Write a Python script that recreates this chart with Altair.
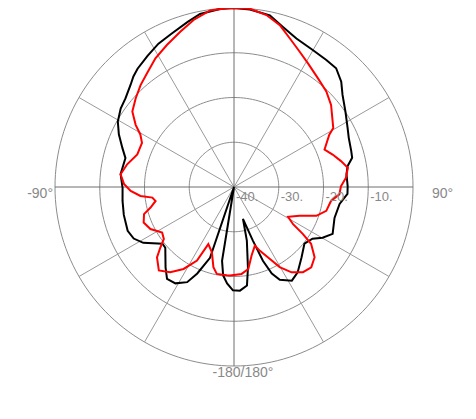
import altair as alt
import pandas as pd
import numpy as np

# ---- data (angle clockwise from top, level in dB) ----
black_angle = [0, 5.1, 11.8, 17.0, 22.8, 29.9, 36.0, 40.7, 45.5, 49.7,
               55.8, 62.6, 66.8, 73.0, 76.1, 79.6, 83.6, 89.6, 93.5, 99.1,
               107.1, 115.4, 119.8, 123.4, 128.8, 136.2, 143.3, 148.3, 153.7, 156.4,
               158.6, 160.6, 164.3, 166.5, 170.2, 172.5, 176.7, 180.6, 184.1, 187.0,
               189.2, 193.5, 198.7, 203.0, 206.2, 211.3, 216.1, 220.4, 228.5, 231.6,
               238.4, 242.8, 247.6, 255.8, 262.9, 269.5, 276.5, 284.9, 289.2, 294.6,
               299.4, 304.7, 309.2, 314.7, 317.7, 320.8, 326.6, 332.2, 337.8, 344.2,
               348.9, 355.5, 360]
black_db = [0, -0.2, -0.8, -2.6, -4.0, -4.7, -4.9, -5.0, -6.4, -8.2,
            -9.9, -11.4, -12.1, -12.6, -12.8, -14.2, -14.7, -14.6, -14.6, -16.1,
            -16.5, -15.6, -17.2, -19.0, -19.8, -18.2, -16.2, -15.4, -16.9, -18.9,
            -22.3, -27.3, -32.6, -27.7, -21.7, -17.8, -16.8, -16.9, -18.4, -20.1,
            -23.3, -40, -23.3, -19.0, -16.3, -14.8, -14.6, -16.4, -19.5, -19.6,
            -16.2, -14.8, -14.3, -14.6, -14.9, -15.1, -14.5, -14.9, -13.6, -11.7,
            -10.2, -9.2, -8.7, -7.5, -6.6, -5.9, -4.9, -3.8, -3.0, -1.7,
            -0.6, -0.1, 0]

red_angle = [0, 5.1, 10.7, 15.8, 21.3, 25.9, 30.9, 37.6, 44.0, 49.8,
             59.3, 61.2, 67.5, 71.8, 76.4, 80.4, 85.3, 89.6, 94.0, 98.2,
             104.5, 109.3, 113.7, 118.9, 122.2, 124.3, 126.4, 131.1, 136.1, 141.0,
             146.0, 150.3, 153.5, 157.9, 160.4, 165.6, 170.1, 175.0, 182.6, 184.7,
             191.2, 194.4, 198.7, 204.2, 206.7, 211.6, 216.8, 222.0, 227.6, 230.6,
             233.5, 237.7, 243.3, 248.5, 253.2, 256.2, 259.9, 262.6, 264.5, 267.8,
             271.6, 276.4, 282.0, 288.6, 295.6, 299.3, 302.3, 306.6, 312.1, 317.5,
             322.6, 328.6, 334.7, 340.9, 346.4, 352.3, 357.7, 360]
red_db = [0, 0, -0.9, -2.4, -4.8, -6.4, -7.8, -9.3, -10.3, -11.6,
          -14.2, -15.7, -18.1, -16.8, -15.4, -14.2, -14.9, -16.1, -16.4, -18.1,
          -18.7, -20.5, -24.0, -26.2, -24.4, -21.4, -18.6, -16.1, -15.1, -15.5,
          -17.0, -19.4, -22.0, -24.6, -26.1, -24.2, -21.4, -20.5, -20.2, -20.2,
          -20.2, -21.5, -24.6, -26.0, -21.6, -18.5, -16.2, -14.9, -16.7, -18.7,
          -20.5, -21.0, -19.1, -18.3, -19.0, -20.8, -22.2, -21.6, -19.0, -16.9,
          -15.4, -14.5, -15.6, -17.2, -17.2, -16.0, -14.0, -11.7, -10.4, -9.1,
          -8.0, -6.3, -4.9, -3.3, -1.6, -0.2, 0, 0]

ring_db = [-30, -20, -10, 0]
ring_labels = ["-40.", "-30.", "-20.", "-10."]
ring_label_db = [-40, -30, -20, -10]
main_spokes = [0, 90]
minor_spokes = [30, 60, 120, 150]
angle_labels = ["-90°", "90°", "-180/180°"]
angle_label_pos = [-90, 90, 180]

# ---- layout ----
W, H = 455, 398
CX, CY = 226, 179
R_PX = 179.0
k = 40.0 / R_PX
xs = alt.Scale(domain=[-CX * k, (W - CX) * k], nice=False, zero=False)
ys = alt.Scale(domain=[-(H - CY) * k, CY * k], nice=False, zero=False)

XE = "(max(datum.db,-40)+40)*sin(datum.angle*PI/180)"
YE = "(max(datum.db,-40)+40)*cos(datum.angle*PI/180)"

def X():
    return alt.X("x:Q", scale=xs, axis=None)

def Y():
    return alt.Y("y:Q", scale=ys, axis=None)

def curve(angles, dbs, color):
    df = pd.DataFrame({"angle": angles, "db": dbs, "i": range(len(angles))})
    return alt.Chart(df).transform_calculate(x=XE, y=YE).mark_line(
        strokeWidth=2, stroke=color
    ).encode(x=X(), y=Y(), order="i:Q")

# rings
ring_rows = []
for rdb in ring_db:
    for a in range(0, 361, 2):
        ring_rows.append({"ring": rdb, "angle": a, "db": rdb})
rings = pd.DataFrame(ring_rows)

ring_layer = alt.Chart(rings).transform_calculate(x=XE, y=YE).mark_line(
    stroke="#8c8c8c", strokeWidth=1
).encode(x=X(), y=Y(), detail="ring:N", order="angle:Q")

def spokes(angles, color):
    df = pd.DataFrame({"angle": angles})
    return alt.Chart(df).transform_calculate(
        x="40*sin(datum.angle*PI/180)", y="40*cos(datum.angle*PI/180)",
        x2="-40*sin(datum.angle*PI/180)", y2="-40*cos(datum.angle*PI/180)",
    ).mark_rule(strokeWidth=1, stroke=color).encode(
        x=X(), y=Y(), x2="x2:Q", y2="y2:Q"
    )

rl = pd.DataFrame({"db": ring_label_db, "text": ring_labels})
ring_text = alt.Chart(rl).transform_calculate(x="datum.db+40", y="0").mark_text(
    align="left", baseline="middle", dx=2, dy=10, font="Liberation Sans",
    fontSize=13, color="#888888"
).encode(x=X(), y=Y(), text="text:N")

al = pd.DataFrame({"angle": angle_label_pos, "text": angle_labels, "db": [0, 0, 0]})
def angle_text(idx, align, dx, dy):
    return alt.Chart(al.iloc[[idx]]).transform_calculate(x=XE, y=YE).mark_text(
        align=align, baseline="middle", dx=dx, dy=dy, font="Liberation Sans",
        fontSize=14, color="#888888"
    ).encode(x=X(), y=Y(), text="text:N")

chart = alt.layer(
    ring_layer,
    spokes(minor_spokes, "#9a9a9a"),
    spokes(main_spokes, "#6e6e6e"),
    curve(black_angle, black_db, "#000000"),
    curve(red_angle, red_db, "#ff0000"),
    ring_text,
    angle_text(0, "right", -2, 7),
    angle_text(1, "left", 19, 7),
    angle_text(2, "center", 9, 7),
).properties(
    width=W, height=H,
    autosize=alt.AutoSizeParams(type="none"),
    padding=0,
    background="white",
).configure_view(stroke=None, strokeWidth=0)

chart.save("out.html", embed_options={"renderer": "svg", "actions": False})
